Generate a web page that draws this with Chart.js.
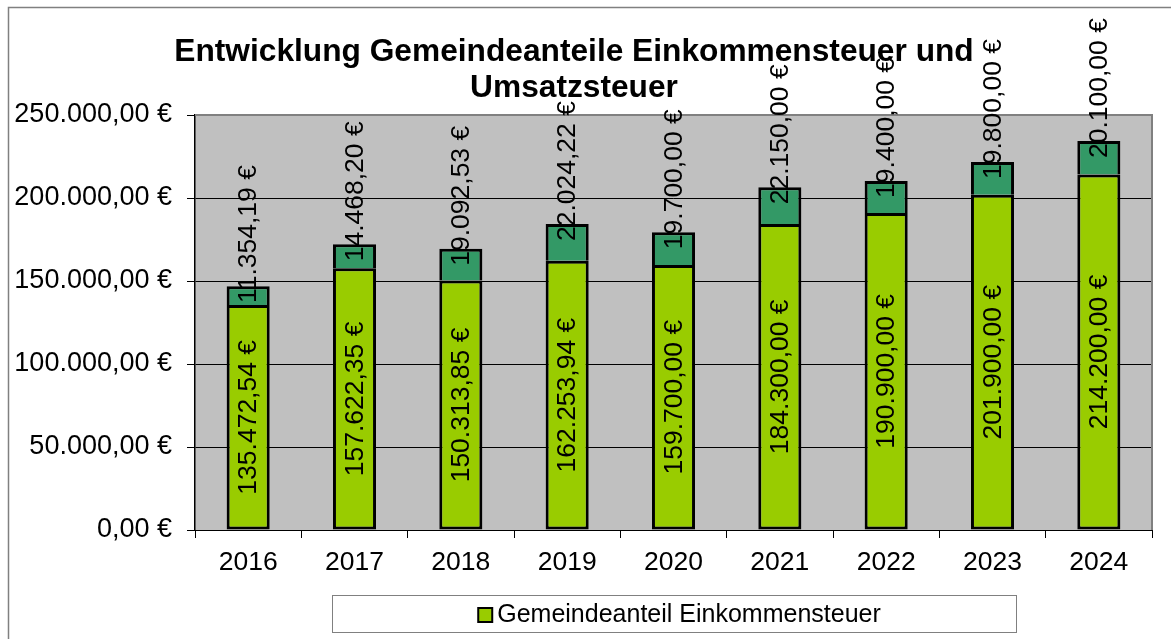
<!DOCTYPE html>
<html>
<head>
<meta charset="utf-8">
<script src="https://cdn.jsdelivr.net/npm/chart.js@4"></script>
<style>
  body { margin: 0; background: #fff; }
  canvas { display: block; }
</style>
</head>
<body>
<canvas id="myChart" width="1171" height="639"></canvas>
<script>
// chart data
var years = ['2016', '2017', '2018', '2019', '2020', '2021', '2022', '2023', '2024'];
var einkommensteuer = [135472.54, 157622.35, 150313.85, 162253.94, 159700.00, 184300.00, 190900.00, 201900.00, 214200.00];
var umsatzsteuer = [11354.19, 14468.20, 19092.53, 22024.22, 19700.00, 22150.00, 19400.00, 19800.00, 20100.00];
var titleLines = ['Entwicklung Gemeindeanteile Einkommensteuer und', 'Umsatzsteuer'];

var FONT = '"Liberation Sans", Arial, sans-serif';

// 135472.54 -> "135.472,54 €"
function euro(v) {
    var parts = Number(v).toFixed(2).split('.');
    return parts[0].replace(/\B(?=(\d{3})+(?!\d))/g, '.') + ',' + parts[1] + ' €';
}

// grey plot background, frame and title
var backgroundPlugin = {
    id: 'background',
    beforeDraw: function(chart) {
        var ctx = chart.ctx;
        var a = chart.chartArea;
        ctx.save();
        ctx.fillStyle = '#ffffff';
        ctx.fillRect(0, 0, chart.width, chart.height);
        // outer frame (top and left edge visible)
        ctx.strokeStyle = '#808080';
        ctx.lineWidth = 1.5;
        ctx.beginPath();
        ctx.moveTo(8.5, chart.height + 2);
        ctx.lineTo(8.5, 7.5);
        ctx.lineTo(chart.width + 2, 7.5);
        ctx.stroke();
        // plot area
        ctx.fillStyle = '#c0c0c0';
        ctx.fillRect(a.left, a.top, a.right - a.left, a.bottom - a.top);
        // title
        ctx.fillStyle = '#000';
        ctx.font = 'bold 31.7px ' + FONT;
        ctx.textAlign = 'center';
        ctx.textBaseline = 'alphabetic';
        ctx.fillText(titleLines[0], 574, 61);
        ctx.fillText(titleLines[1], 574, 97);
        ctx.restore();
    },
    beforeDatasetsDraw: function(chart) {
        var ctx = chart.ctx;
        var a = chart.chartArea;
        ctx.save();
        ctx.strokeStyle = '#808080';
        ctx.lineWidth = 2;
        ctx.beginPath();
        ctx.moveTo(a.left, a.top);
        ctx.lineTo(a.right, a.top);
        ctx.lineTo(a.right, a.bottom);
        ctx.stroke();
        ctx.restore();
    }
};

// rotated value labels and the boxed legend
var labelPlugin = {
    id: 'valueLabels',
    afterDatasetsDraw: function(chart) {
        var ctx = chart.ctx;
        ctx.save();
        ctx.font = '26.5px ' + FONT;
        ctx.fillStyle = '#000';
        ctx.textBaseline = 'middle';
        chart.data.datasets.forEach(function(ds, di) {
            var meta = chart.getDatasetMeta(di);
            meta.data.forEach(function(bar, i) {
                var top = Math.min(bar.y, bar.base);
                var bottom = Math.max(bar.y, bar.base);
                ctx.save();
                if (di === 0) {
                    ctx.translate(bar.x, (top + bottom) / 2);
                    ctx.textAlign = 'center';
                } else {
                    ctx.translate(bar.x, Math.min(bottom - 2, top + 17));
                    ctx.textAlign = 'left';
                }
                ctx.rotate(-Math.PI / 2);
                ctx.fillText(euro(ds.data[i]), 0, 1);
                ctx.restore();
            });
        });
        ctx.restore();
    },
    afterDraw: function(chart) {
        var ctx = chart.ctx;
        var a = chart.chartArea;
        var ds = chart.data.datasets[0];
        var boxW = 684, boxH = 37;
        var cx = (a.left + a.right) / 2;
        var bx = Math.round(cx - boxW / 2) + 0.5;
        var by = 595.5;
        ctx.save();
        ctx.strokeStyle = '#808080';
        ctx.lineWidth = 1;
        ctx.fillStyle = '#fff';
        ctx.fillRect(bx, by, boxW, boxH);
        ctx.strokeRect(bx, by, boxW, boxH);
        ctx.font = '25px ' + FONT;
        var tw = ctx.measureText(ds.label).width;
        var sw = 14, gap = 5;
        var sx = cx + 6 - (sw + gap + tw) / 2;
        ctx.fillStyle = ds.backgroundColor;
        ctx.fillRect(sx, 608, sw, sw);
        ctx.strokeStyle = '#000';
        ctx.lineWidth = 2;
        ctx.strokeRect(sx, 608, sw, sw);
        ctx.fillStyle = '#000';
        ctx.textAlign = 'left';
        ctx.textBaseline = 'middle';
        ctx.fillText(ds.label, sx + sw + gap, 615);
        ctx.restore();
    }
};

window.addEventListener('DOMContentLoaded', function(event) {
    var ctx = document.getElementById('myChart');
    var myChart = new Chart(ctx, {
        type: 'bar',
        data: {
            labels: years,
            datasets: [{
                label: 'Gemeindeanteil Einkommensteuer',
                data: einkommensteuer,
                backgroundColor: '#99cc00',
                borderColor: '#000',
                borderWidth: 3,
                borderSkipped: false
            }, {
                label: 'Gemeindeanteil Umsatzsteuer',
                data: umsatzsteuer,
                backgroundColor: '#339966',
                borderColor: '#000',
                borderWidth: 3,
                borderSkipped: 'bottom'
            }]
        },
        options: {
            responsive: false,
            animation: false,
            layout: {
                padding: { top: 115, left: 15, right: 19, bottom: 59 }
            },
            datasets: {
                bar: { barPercentage: 0.405, categoryPercentage: 1 }
            },
            plugins: {
                legend: { display: false },
                title: { display: false },
                tooltip: { enabled: false }
            },
            scales: {
                x: {
                    stacked: true,
                    afterFit: function(scale) { scale.height = 50; },
                    grid: {
                        offset: true,
                        drawOnChartArea: false,
                        drawTicks: true,
                        tickLength: 8,
                        color: '#000'
                    },
                    border: { display: true, color: '#000', width: 1 },
                    ticks: {
                        color: '#000',
                        padding: 9,
                        font: { family: FONT, size: 26.5 }
                    }
                },
                y: {
                    stacked: true,
                    min: 0,
                    max: 250000,
                    afterFit: function(scale) { scale.width = 180; },
                    grid: {
                        color: '#000',
                        lineWidth: 1,
                        tickLength: 8
                    },
                    border: { display: true, color: '#000', width: 1.5 },
                    ticks: {
                        stepSize: 50000,
                        color: '#000',
                        padding: 15,
                        font: { family: FONT, size: 27 },
                        callback: function(value) { return euro(value); }
                    }
                }
            }
        },
        plugins: [backgroundPlugin, labelPlugin]
    });
});
</script>
</body>
</html>
